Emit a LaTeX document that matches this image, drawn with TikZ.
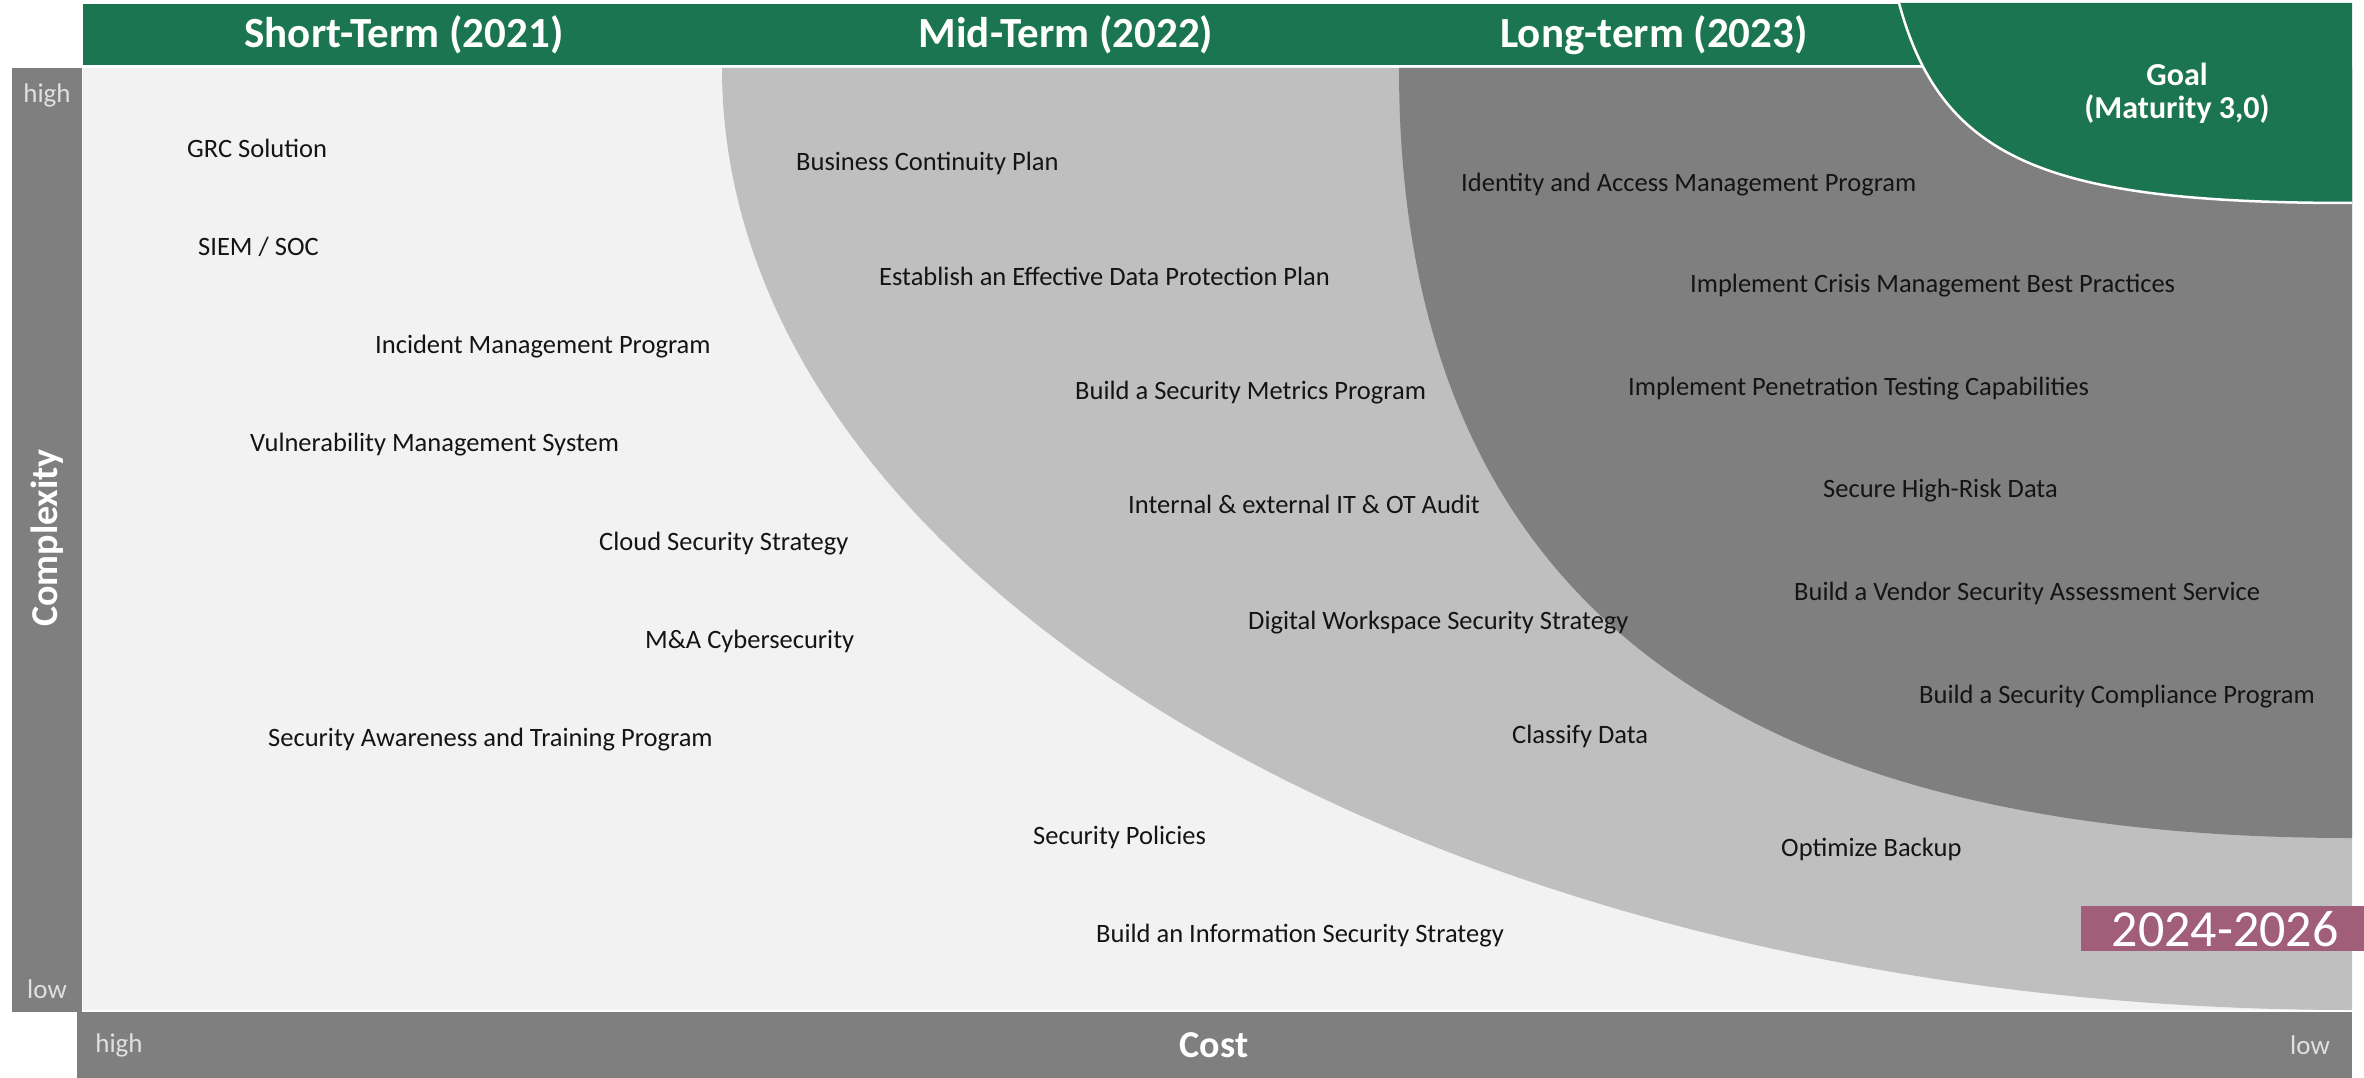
\documentclass[tikz,border=0pt]{standalone}
\usepackage{fontspec}
\setmainfont{Carlito}
\definecolor{hdrgreen}{RGB}{27,117,80}
\definecolor{panelgray}{RGB}{242,242,242}
\definecolor{midgray}{RGB}{191,191,191}
\definecolor{darkgray}{RGB}{127,127,127}
\definecolor{axisgray}{RGB}{127,127,127}
\definecolor{purp}{RGB}{160,94,120}
\begin{document}
\begin{tikzpicture}[x=1pt,y=-1pt,
  item/.style={anchor=west, inner sep=0pt, text=black!92, text height=0.65em, text depth=0.2em,
    yshift=-7pt, font=\fontsize{26.5}{30}\selectfont},
  hdr/.style={text=white, inner sep=0pt, font=\bfseries\fontsize{43}{46}\selectfont},
  axislbl/.style={text=white, inner sep=0pt, font=\bfseries\fontsize{38}{40}\selectfont},
  ticklbl/.style={text=white!88!black, inner sep=0pt, font=\fontsize{27}{30}\selectfont},
  goaltxt/.style={text=white, inner sep=0pt, align=center, font=\bfseries\fontsize{32}{33}\selectfont}]
\useasboundingbox (0,0) rectangle (2364,1078);
% chart regions
\fill[panelgray] (83,68) rectangle (2352,1010);
\fill[midgray] (722,68) .. controls (722,588) and (1452,1010) .. (2352,1010) -- (2352,68) -- cycle;
\fill[darkgray] (1399,68) .. controls (1399,584) and (1713,838) .. (2352,838) -- (2352,68) -- cycle;
% header
\fill[hdrgreen] (83,4) rectangle (2352,65);
\fill[hdrgreen] (1899,3) .. controls (1942,163) and (2052,203) .. (2352,203) -- (2352,3) -- cycle;
\draw[white, line width=2.5] (1899,3) .. controls (1942,163) and (2052,203) .. (2352,203);
% axes
\fill[axisgray] (12,68) rectangle (82,1012);
\fill[axisgray] (77,1012) rectangle (2352,1078);
% header labels
\node[hdr] (st) at (404,35) {Short-Term (2021)};
\node[hdr] (mt) at (1066,35) {Mid-Term (2022)};
\node[hdr] (lt) at (1654,35) {Long-term (2023)};
\node[goaltxt] (goal) at (2177,93) {Goal\\(Maturity 3,0)};
% axis labels
\node[axislbl, rotate=90] (cx) at (47,538) {Complexity};
\node[axislbl] (cost) at (1214,1045) {Cost};
\node[ticklbl] (yhigh) at (47,95) {high};
\node[ticklbl] (ylow) at (47,989) {low};
\node[ticklbl] (xhigh) at (119,1045) {high};
\node[ticklbl] (xlow) at (2310,1045) {low};
% period tag
\node[fill=purp, anchor=north west, minimum width=283, minimum height=45, inner sep=0pt] (yrsbox) at (2081,906) {};
\node[text=white, anchor=base, inner sep=0pt, font=\fontsize{52}{56}\selectfont] (yrs) at (2225,946) {2024-2026};
% short-term items
\node[item] (s1) at (187,148) {GRC Solution};
\node[item] (s2) at (198,246) {SIEM / SOC};
\node[item] (s3) at (375,344) {Incident Management Program};
\node[item] (s4) at (250,442) {Vulnerability Management System};
\node[item] (s5) at (599,541) {Cloud Security Strategy};
\node[item] (s6) at (645,639) {M\&A Cybersecurity};
\node[item] (s7) at (268,737) {Security Awareness and Training Program};
\node[item] (s8) at (1033,835) {Security Policies};
\node[item] (s9) at (1096,933) {Build an Information Security Strategy};
% mid-term items
\node[item] (m1) at (796,161) {Business Continuity Plan};
\node[item] (m2) at (879,276) {Establish an Effective Data Protection Plan};
\node[item] (m3) at (1075,390) {Build a Security Metrics Program};
\node[item] (m4) at (1128,504) {Internal \& external IT \& OT Audit};
\node[item] (m5) at (1248,620) {Digital Workspace Security Strategy};
\node[item] (m6) at (1512,734) {Classify Data};
\node[item] (m7) at (1781,847) {Optimize Backup};
% long-term items
\node[item] (l1) at (1461,182) {Identity and Access Management Program};
\node[item] (l2) at (1690,283) {Implement Crisis Management Best Practices};
\node[item] (l3) at (1628,386) {Implement Penetration Testing Capabilities};
\node[item] (l4) at (1823,488) {Secure High-Risk Data};
\node[item] (l5) at (1794,591) {Build a Vendor Security Assessment Service};
\node[item] (l6) at (1919,694) {Build a Security Compliance Program};
\end{tikzpicture}
\end{document}
